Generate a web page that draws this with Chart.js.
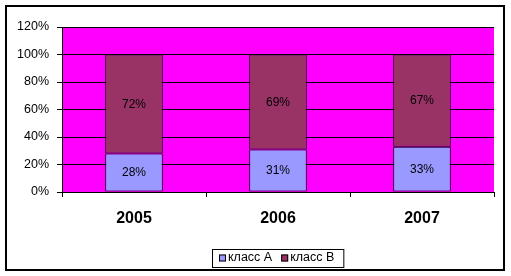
<!DOCTYPE html>
<html><head><meta charset="utf-8">
<script src="https://cdn.jsdelivr.net/npm/chart.js@4/dist/chart.umd.min.js"></script>
<style>html,body{margin:0;padding:0;background:#fff;overflow:hidden}</style>
</head><body>
<canvas id="c" width="511" height="276"></canvas>
<script>
const categories = ['2005', '2006', '2007'];
const seriesNames = ['класс А', 'класс В'];
const classA = [28, 31, 33];
const classB = [72, 69, 67];
const yMin = 0, yMax = 120, yStep = 20;

const FONT = '"Liberation Sans", Arial, sans-serif';

const bgPlugin = {
  id: 'bg',
  beforeDraw(chart) {
    const {ctx, chartArea: a} = chart;
    ctx.save();
    ctx.fillStyle = '#fff';
    ctx.fillRect(0, 0, chart.width, chart.height);
    ctx.fillStyle = '#FF00FF';
    ctx.fillRect(a.left, a.top, a.right - a.left, a.bottom - a.top);
    ctx.restore();
  }
};

const labelPlugin = {
  id: 'vlabels',
  afterDatasetsDraw(chart) {
    const ctx = chart.ctx;
    ctx.save();
    ctx.font = '12px ' + FONT;
    ctx.fillStyle = '#000';
    ctx.textAlign = 'center';
    ctx.textBaseline = 'middle';
    chart.data.datasets.forEach((ds, i) => {
      chart.getDatasetMeta(i).data.forEach((el, j) => {
        ctx.fillText(ds.data[j] + '%', el.x, (el.y + el.base) / 2 + 0.5);
      });
    });
    ctx.restore();
  }
};

const legendPlugin = {
  id: 'boxlegend',
  afterDraw(chart) {
    const ctx = chart.ctx;
    ctx.save();
    ctx.font = '12.5px ' + FONT;
    ctx.textBaseline = 'middle';
    const boxLeft = 212, boxTop = 249, boxH = 18;
    let x = boxLeft + 7;
    const cy = boxTop + boxH / 2;
    chart.data.datasets.forEach(ds => {
      ctx.fillStyle = ds.backgroundColor;
      ctx.fillRect(x, cy - 3.5, 7, 7);
      ctx.strokeStyle = '#000';
      ctx.lineWidth = 1;
      ctx.strokeRect(x + 0.5, cy - 3.5 + 0.5, 6, 6);
      ctx.fillStyle = '#000';
      ctx.fillText(ds.label, x + 9, cy);
      x += 9 + ctx.measureText(ds.label).width + 9;
    });
    const boxW = x - boxLeft;
    ctx.strokeStyle = '#000';
    ctx.lineWidth = 1;
    ctx.strokeRect(boxLeft + 0.5, boxTop + 0.5, boxW, boxH);
    // outer chart border
    ctx.lineWidth = 2;
    ctx.strokeRect(6, 6, 498, 264);
    ctx.restore();
  }
};

new Chart(document.getElementById('c'), {
  type: 'bar',
  data: {
    labels: categories,
    datasets: [
      { label: seriesNames[0], data: classA, backgroundColor: '#9999FF', borderColor: '#000', borderWidth: 1, borderSkipped: false },
      { label: seriesNames[1], data: classB, backgroundColor: '#993366', borderColor: '#000', borderWidth: 1, borderSkipped: false }
    ]
  },
  options: {
    responsive: false,
    animation: false,
    layout: { padding: { top: 27, right: 17, left: 0, bottom: 0 } },
    datasets: { bar: { barPercentage: 0.4, categoryPercentage: 1 } },
    plugins: { legend: { display: false }, tooltip: { enabled: false } },
    scales: {
      x: {
        stacked: true,
        offset: true,
        afterFit(s) { s.height = 84; },
        grid: { offset: true, drawOnChartArea: false, drawTicks: true, tickLength: 5, color: '#000', lineWidth: 1 },
        border: { display: true, color: '#000', width: 1 },
        ticks: { color: '#000', font: { family: FONT, size: 16, weight: 'bold' }, padding: 12, maxRotation: 0 }
      },
      y: {
        stacked: true,
        min: yMin, max: yMax,
        afterFit(s) { s.width = 62; },
        grid: { color: '#000', lineWidth: 1, tickLength: 5, drawTicks: true },
        border: { display: true, color: '#000', width: 1 },
        ticks: { stepSize: yStep, color: '#000', font: { family: FONT, size: 12.5 }, padding: 8, callback: v => v + '%' }
      }
    }
  },
  plugins: [bgPlugin, labelPlugin, legendPlugin]
});
</script>
</body></html>
